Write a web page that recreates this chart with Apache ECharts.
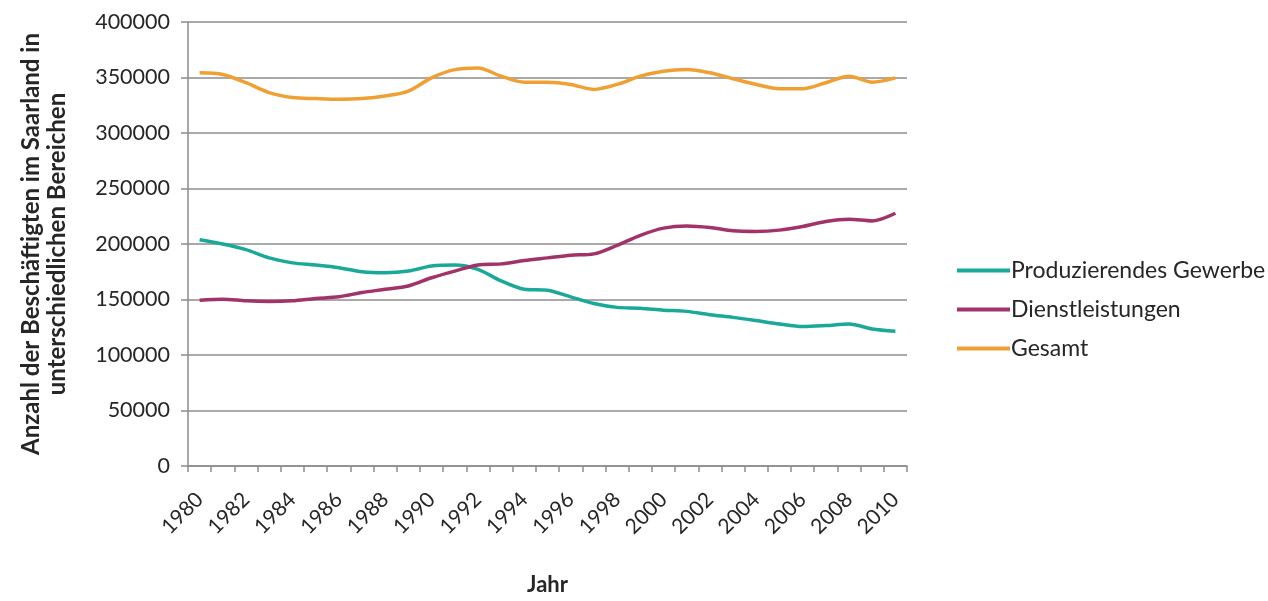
<!DOCTYPE html>
<html>
<head>
<meta charset="utf-8">
<script src="https://cdn.jsdelivr.net/npm/echarts@6/dist/echarts.min.js"></script>
<style>
  html, body { margin: 0; padding: 0; background: #fff; }
  #chart { width: 1268px; height: 601px; }
</style>
</head>
<body>
<div id="chart"></div>
<script>
const years = []
for (let y = 1980; y <= 2010; y++) years.push(String(y))

const produzierend = [203800, 200000, 194900, 187500, 183000, 181000, 178600, 175000, 174100, 175600,
  180100, 181000, 177100, 166700, 159200, 158300, 152400, 146400, 142900, 142200,
  140400, 139300, 136300, 133900, 131000, 127900, 125600, 126500, 127900, 123500, 121400]

const dienst = [149400, 150300, 148800, 148200, 148800, 150900, 152400, 156300, 159200, 162200,
  169600, 175600, 181000, 182100, 185100, 187500, 189900, 191100, 198800, 207800,
  214300, 216300, 214900, 211900, 211300, 212500, 215800, 220300, 222300, 220800, 227700]

const gesamt = [354200, 352700, 345300, 336300, 331900, 331000, 330400, 331000, 333300, 337800,
  349700, 357100, 358600, 351200, 345800, 345800, 343750, 339300, 343750, 351200,
  355700, 357100, 354200, 348900, 343750, 339900, 339900, 345300, 351200, 345800, 349700]

const font = 'Lato'
const textColor = '#262626'

let myChart = echarts.init(document.getElementById('chart'))

const option = {
  animation: false,
  textStyle: { fontFamily: font },
  grid: { left: 188, right: 361, top: 22, bottom: 131 },
  legend: {
    orient: 'vertical',
    left: 952,
    top: 254,
    icon: 'rect',
    itemWidth: 53,
    itemHeight: 4,
    itemGap: 16,
    textStyle: { fontSize: 23, color: textColor, fontFamily: font, padding: [0, 0, 0, -4] },
    data: ['Produzierendes Gewerbe', 'Dienstleistungen', 'Gesamt']
  },
  xAxis: {
    type: 'category',
    data: years,
    boundaryGap: true,
    name: 'Jahr',
    nameLocation: 'middle',
    nameGap: 108,
    nameTextStyle: { fontSize: 22, fontWeight: 'bold', color: textColor, fontFamily: font },
    axisLine: { lineStyle: { color: '#8c8c8c', width: 1.5 } },
    axisTick: { show: true, interval: 0, length: 6, lineStyle: { color: '#8c8c8c', width: 1.5 } },
    axisLabel: { interval: 1, rotate: 45, fontSize: 21, color: textColor, fontFamily: font, margin: 30 }
  },
  yAxis: {
    type: 'value',
    min: 0,
    max: 400000,
    interval: 50000,
    name: 'Anzahl der Beschäftigten im Saarland in\nunterschiedlichen Bereichen',
    nameLocation: 'middle',
    nameRotate: 90,
    nameGap: 118,
    nameTextStyle: { fontSize: 24, fontWeight: 'bold', color: textColor, fontFamily: font, lineHeight: 26 },
    axisLine: { show: true, lineStyle: { color: '#8c8c8c', width: 1.5 } },
    axisTick: { show: true, length: 7, lineStyle: { color: '#8c8c8c', width: 1.5 } },
    axisLabel: { fontSize: 21.5, color: textColor, fontFamily: font, margin: 18, formatter: v => String(v) },
    splitLine: { lineStyle: { color: '#8c8c8c', width: 1.5 } }
  },
  series: [
    {
      name: 'Produzierendes Gewerbe',
      type: 'line',
      data: produzierend,
      smooth: 0.3,
      symbol: 'none',
      itemStyle: { color: '#1aa898' },
      lineStyle: { color: '#1aa898', width: 3.5 }
    },
    {
      name: 'Dienstleistungen',
      type: 'line',
      data: dienst,
      smooth: 0.3,
      symbol: 'none',
      itemStyle: { color: '#a2336a' },
      lineStyle: { color: '#a2336a', width: 3.5 }
    },
    {
      name: 'Gesamt',
      type: 'line',
      data: gesamt,
      smooth: 0.3,
      symbol: 'none',
      itemStyle: { color: '#f0a033' },
      lineStyle: { color: '#f0a033', width: 3.5 }
    }
  ]
}

myChart.setOption(option)
</script>
</body>
</html>
